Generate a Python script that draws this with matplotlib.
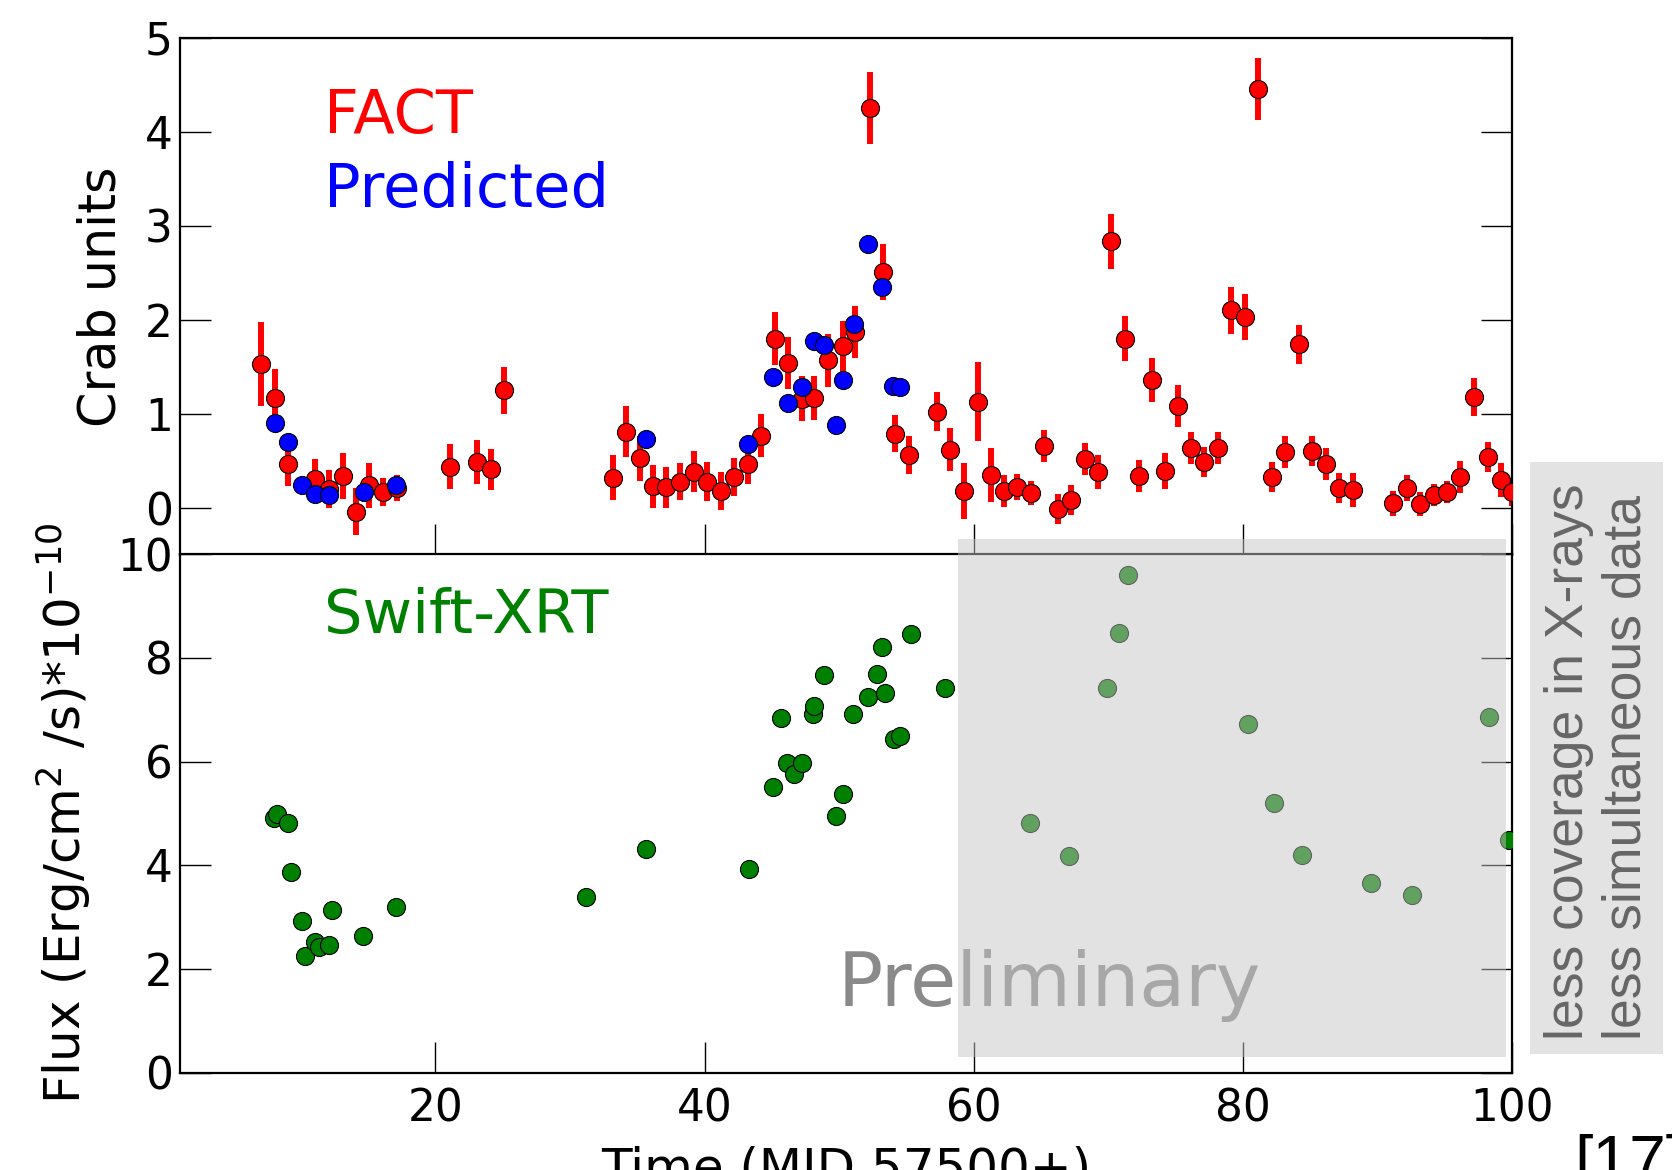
import matplotlib
matplotlib.use("Agg")
import matplotlib.pyplot as plt
from matplotlib.patches import Rectangle
import numpy as np

# FACT light curve (Crab units) with errors
fact_t = [7.08, 8.1, 9.07, 11.06, 12.1, 13.11, 14.1, 15.1, 16.1, 17.14,
          21.12, 23.1, 24.17, 25.11, 33.19, 34.18, 35.17, 36.17, 37.16, 38.15,
          39.2, 40.2, 41.24, 42.18, 43.25, 44.17, 45.24, 46.2, 47.2, 48.14,
          49.19, 50.26, 51.18, 52.25, 53.24, 54.16, 55.22, 57.26, 58.25, 59.27,
          60.31, 61.31, 62.25, 63.24, 64.24, 65.23, 66.28, 67.2, 68.26, 69.26,
          70.2, 71.2, 72.24, 73.25, 74.22, 75.2, 76.13, 77.12, 78.11, 79.13,
          80.12, 81.12, 82.16, 83.1, 84.14, 85.09, 86.13, 87.12, 88.16, 91.14,
          92.16, 93.15, 94.15, 95.14, 96.13, 97.13, 98.17, 99.16, 99.95]
fact_flux = [1.53, 1.17, 0.47, 0.31, 0.20, 0.34, -0.04, 0.24, 0.17, 0.21,
             0.44, 0.49, 0.41, 1.25, 0.32, 0.81, 0.53, 0.23, 0.22, 0.28,
             0.385, 0.28, 0.18, 0.33, 0.47, 0.77, 1.80, 1.54, 1.16, 1.17,
             1.57, 1.72, 1.87, 4.25, 2.51, 0.79, 0.565, 1.025, 0.62, 0.18,
             1.13, 0.35, 0.18, 0.22, 0.16, 0.66, -0.01, 0.085, 0.52, 0.38,
             2.835, 1.80, 0.335, 1.36, 0.39, 1.085, 0.64, 0.485, 0.64, 2.10,
             2.03, 4.45, 0.33, 0.60, 1.74, 0.61, 0.47, 0.21, 0.19, 0.05,
             0.21, 0.04, 0.14, 0.17, 0.33, 1.18, 0.54, 0.30, 0.17]
fact_err = [0.45, 0.31, 0.24, 0.21, 0.20, 0.24, 0.25, 0.24, 0.15, 0.14,
            0.24, 0.23, 0.22, 0.25, 0.24, 0.27, 0.24, 0.23, 0.22, 0.20,
            0.22, 0.21, 0.20, 0.20, 0.21, 0.23, 0.28, 0.28, 0.24, 0.23,
            0.28, 0.27, 0.28, 0.38, 0.30, 0.20, 0.20, 0.21, 0.23, 0.30,
            0.42, 0.29, 0.17, 0.14, 0.13, 0.17, 0.16, 0.16, 0.17, 0.18,
            0.29, 0.24, 0.17, 0.23, 0.19, 0.22, 0.17, 0.16, 0.17, 0.25,
            0.24, 0.33, 0.16, 0.17, 0.21, 0.16, 0.17, 0.16, 0.18, 0.13,
            0.14, 0.13, 0.12, 0.12, 0.17, 0.20, 0.16, 0.18, 0.15]

# predicted flux (Crab units)
pred_t = [8.1, 9.07, 10.09, 11.06, 12.1, 14.73, 17.1, 35.65, 43.26, 45.09,
          46.16, 47.2, 48.1, 48.9, 49.76, 50.26, 51.08, 52.17, 53.16, 53.99, 54.53]
pred_flux = [0.90, 0.70, 0.24, 0.15, 0.14, 0.17, 0.24, 0.73, 0.68, 1.39,
             1.12, 1.29, 1.78, 1.73, 0.88, 1.36, 1.96, 2.81, 2.35, 1.30, 1.29]

# Swift-XRT flux (1e-10 erg/cm2/s)
xrt_t = [8.03, 8.27, 9.07, 9.31, 10.06, 10.31, 11.08, 11.33, 12.07, 12.33,
         14.66, 17.06, 31.18, 35.65, 43.33, 45.09, 45.66, 46.11, 46.61, 47.23,
         48.02, 48.1, 48.9, 49.76, 50.26, 51.05, 52.17, 52.82, 53.17, 53.37,
         54.04, 54.48, 55.35, 57.83, 64.17, 67.1, 69.87, 70.82, 71.42, 80.37,
         82.33, 84.34, 89.53, 92.58, 98.24, 99.77]
xrt_flux = [4.91, 4.99, 4.82, 3.87, 2.93, 2.25, 2.52, 2.43, 2.47, 3.13,
            2.64, 3.19, 3.38, 4.32, 3.93, 5.51, 6.84, 5.97, 5.76, 5.97,
            6.92, 7.08, 7.67, 4.95, 5.38, 6.92, 7.25, 7.69, 8.22, 7.32,
            6.44, 6.50, 8.46, 7.42, 4.81, 4.17, 7.42, 8.48, 9.59, 6.73,
            5.2, 4.2, 3.65, 3.42, 6.86, 4.49]

fig = plt.figure(figsize=(16.72, 11.7), dpi=100)
ax1 = fig.add_axes([0.1074, 0.5256, 0.7971, 0.4423])
ax2 = fig.add_axes([0.1074, 0.0832, 0.7971, 0.4431])

for ax in (ax1, ax2):
    for s in ax.spines.values():
        s.set_linewidth(1.6)
    ax.tick_params(direction='in', length=22, width=1, labelsize=31.5,
                   right=True, top=False)
    ax.tick_params(axis='y', pad=5)
    ax.tick_params(axis='x', pad=11)
    ax.set_xlim(1, 100)
    ax.set_xticks([20, 40, 60, 80, 100])

# top panel: FACT
ax1.errorbar(fact_t, fact_flux, yerr=fact_err, fmt='none', ecolor='red',
             elinewidth=4.3, capsize=0, zorder=2)
ax1.plot(fact_t, fact_flux, 'o', color='red', mec='black', mew=0.8, ms=13, zorder=3)
ax1.plot(pred_t, pred_flux, 'o', color='blue', mec='black', mew=0.8, ms=13, zorder=4)
ax1.set_ylim(-0.5, 5)
ax1.set_yticks([0, 1, 2, 3, 4, 5])
ax1.tick_params(axis='x', labelbottom=False)
ax1.set_ylabel('Crab units', fontsize=36.5, labelpad=13)
ax1.text(11.75, 3.99, 'FACT', color='red', fontsize=43.7)
ax1.text(11.75, 3.195, 'Predicted', color='blue', fontsize=43.7)

# bottom panel: Swift-XRT
ax2.plot(xrt_t, xrt_flux, 'o', color='green', mec='black', mew=0.8, ms=13, zorder=3)
ax2.set_ylim(0, 10)
ax2.set_yticks([0, 2, 4, 6, 8, 10])
ax2.set_ylabel(r'Flux (Erg/cm$^2$ /s)*10$^{-10}$', fontsize=36, labelpad=17)
ax2.set_xlabel('Time (MJD 57500+)', fontsize=36, labelpad=11)
ax2.text(11.75, 8.48, 'Swift-XRT', color='green', fontsize=43.7)
ax2.text(49.9, 1.29, 'Preliminary', color='#8a8a8a', fontsize=54)

# translucent box over the poorly covered period
fig.add_artist(Rectangle((58.83, 0.31), 99.5 - 58.83, 10.29 - 0.31,
                         transform=ax2.transData, facecolor=(0.776, 0.776, 0.776),
                         alpha=0.494, edgecolor='none', zorder=5))

# side note
fig.add_artist(Rectangle((0.9151, 0.0991), 0.0797, 0.5057, transform=fig.transFigure,
                         facecolor='#e3e3e3', edgecolor='none', zorder=5))
fig.text(0.9557, 0.1111, 'less coverage in X-rays\nless simultaneous data',
         rotation=90, ha='center', va='bottom', multialignment='left',
         color='#666666', fontsize=38.5, family='Liberation Sans', zorder=6)
fig.text(0.9417, 1 - 1134 / 1170, '[17]', ha='left', va='top', fontsize=47.5,
         family='Liberation Sans', color='black')

fig.savefig('out.png', dpi=100)
